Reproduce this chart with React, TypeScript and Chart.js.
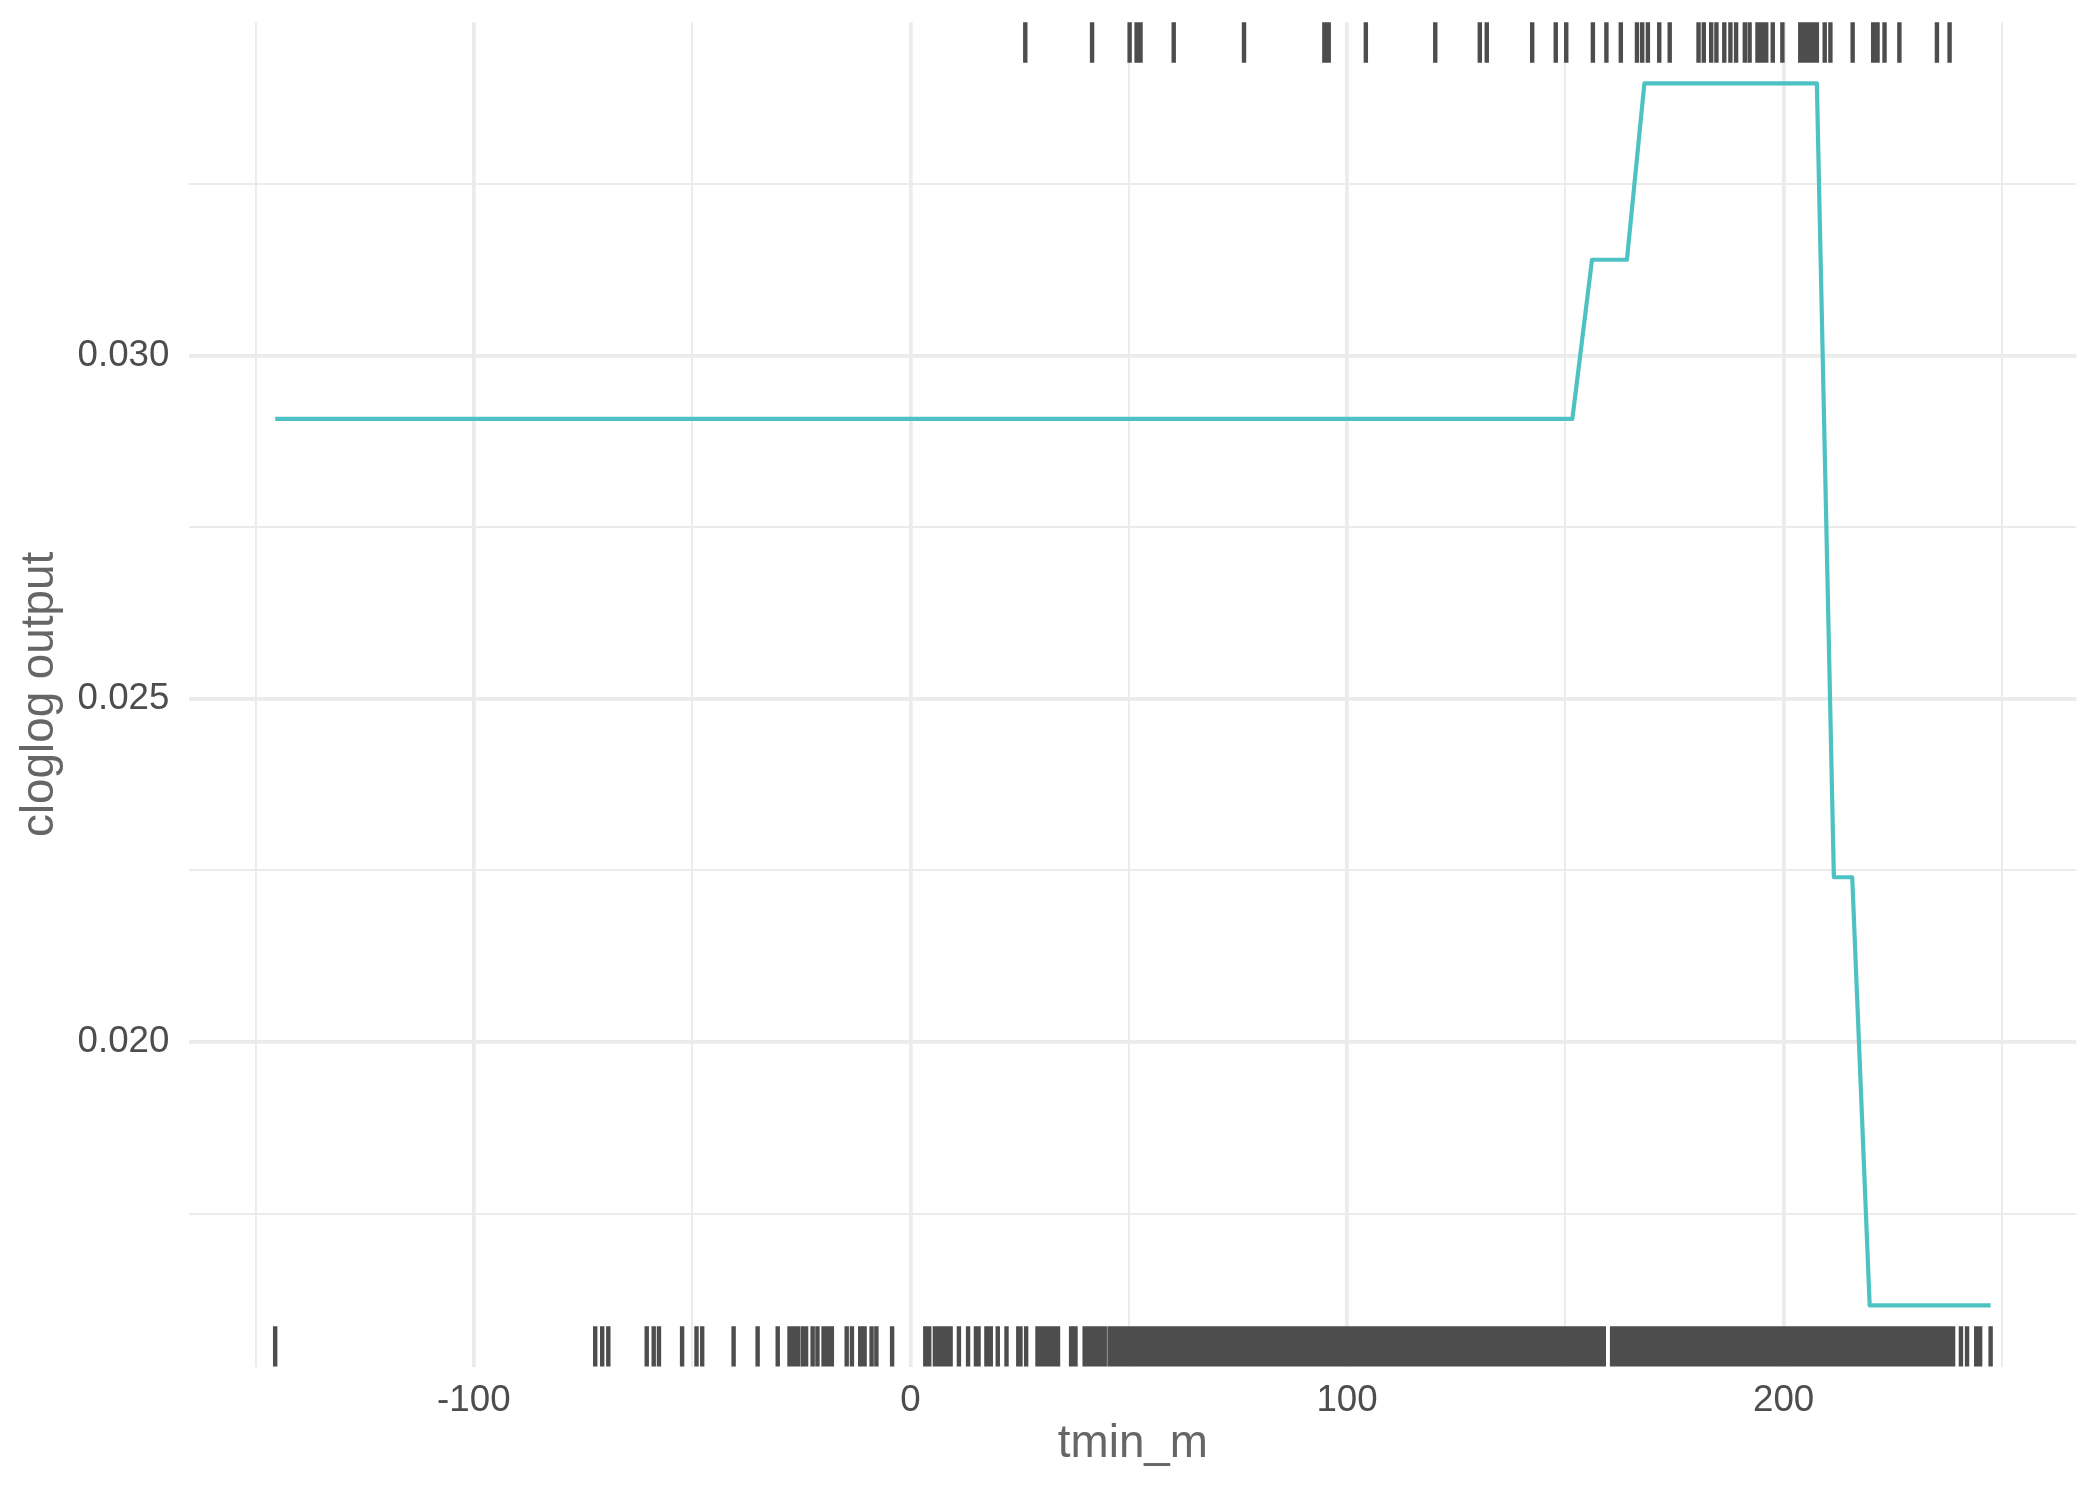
import React, { useEffect, useRef } from 'react';
import { Chart, registerables } from 'chart.js';

Chart.register(...registerables);

// Response curve (tmin_m vs cloglog output)
const curveX = [-145.5, 151.6, 156.1, 164.1, 168.1, 207.6, 211.5, 215.7, 219.7, 247.4];
const curveY = [0.02908, 0.02908, 0.0314, 0.0314, 0.03397, 0.03397, 0.0224, 0.0224, 0.01616, 0.01616];

// Rug at top (presence records)
const presenceX = [
  26.3, 41.6, 50.2, 51.8, 52.7, 60.3, 76.4, 94.8, 95.8, 104.3, 120.2, 130.4, 132.0,
  142.4, 147.8, 150.2, 156.3, 159.4, 162.7, 166.4, 167.6, 168.9, 171.5, 173.9,
  180.5, 181.7, 183.4, 184.6, 186.4, 187.8, 189.1, 191.1, 192.2, 194.0, 195.0,
  196.0, 197.5, 199.7, 203.8, 204.7, 205.7, 206.6, 207.6, 209.4, 210.7, 215.8,
  220.5, 221.5, 223.1, 226.5, 235.1, 238.0,
];

// Rug at bottom (background records)
const backgroundX = [
  -145.5, -72.2, -70.6, -69.2, -60.4, -58.8, -57.6, -52.3, -49.0, -47.7, -40.5, -35.0,
  -30.4, -27.7, -26.7, -25.7, -24.6, -23.9, -22.4, -21.3, -19.9, -19.0, -18.0, -14.6,
  -13.4, -11.5, -10.5, -8.9, -7.8, -4.2, 3.4, 4.3, 5.6, 6.6, 7.6, 8.6, 9.2, 11.1, 13.2,
  15.0, 15.6, 17.4, 18.4, 20.0, 22.0, 24.7, 25.2, 26.5, 29.1, 30.1, 31.1, 32.1, 33.1,
  33.8, 36.8, 37.8, 39.9, 40.9, 41.9, 42.9, 43.9, 44.5,
  45.6, 46.4, 47.3, 48.1, 49.0, 49.9, 50.7, 51.6, 52.4, 53.3, 54.2, 55.0, 55.9, 56.7,
  57.6, 58.5, 59.3, 60.2, 61.0, 61.9, 62.8, 63.6, 64.5, 65.3, 66.2, 67.1, 67.9, 68.8,
  69.6, 70.5, 71.4, 72.2, 73.1, 73.9, 74.8, 75.7, 76.5, 77.4, 78.2, 79.1, 80.0, 80.8,
  81.7, 82.5, 83.4, 84.3, 85.1, 86.0, 86.8, 87.7, 88.6, 89.4, 90.3, 91.1, 92.0, 92.9,
  93.7, 94.6, 95.4, 96.3, 97.2, 98.0, 98.9, 99.7, 100.6, 101.5, 102.3, 103.2, 104.0,
  104.9, 105.8, 106.6, 107.5, 108.3, 109.2, 110.1, 110.9, 111.8, 112.6, 113.5, 114.4,
  115.2, 116.1, 116.9, 117.8, 118.7, 119.5, 120.4, 121.2, 122.1, 123.0, 123.8, 124.7,
  125.5, 126.4, 127.3, 128.1, 129.0, 129.8, 130.7, 131.6, 132.4, 133.3, 134.1, 135.0,
  135.9, 136.7, 137.6, 138.4, 139.3, 140.2, 141.0, 141.9, 142.7, 143.6, 144.5, 145.3,
  146.2, 147.0, 147.9, 148.8, 149.6, 150.5, 151.3, 152.2, 153.1, 153.9, 154.8, 155.6,
  156.5, 157.4, 158.2, 158.8,
  160.7, 161.5, 162.4, 163.2, 164.1, 165.0, 165.8, 166.7, 167.5, 168.4, 169.3, 170.1,
  171.0, 171.8, 172.7, 173.6, 174.4, 175.3, 176.1, 177.0, 177.9, 178.7, 179.6, 180.4,
  181.3, 182.2, 183.0, 183.9, 184.7, 185.6, 186.5, 187.3, 188.2, 189.0, 189.9, 190.8,
  191.6, 192.5, 193.3, 194.2, 195.1, 195.9, 196.8, 197.6, 198.5, 199.4, 200.2, 201.1,
  201.9, 202.8, 203.7, 204.5, 205.4, 206.2, 207.1, 208.0, 208.8, 209.7, 210.5, 211.4,
  212.3, 213.1, 214.0, 214.8, 215.7, 216.6, 217.4, 218.3, 219.1, 220.0, 220.9, 221.7,
  222.6, 223.4, 224.3, 225.2, 226.0, 226.9, 227.7, 228.6, 229.5, 230.3, 231.2, 232.0,
  232.9, 233.8, 234.6, 235.5, 236.3, 237.2, 238.1, 238.8,
  240.6, 242.0, 244.1, 245.0, 247.4,
];

const xTickValues = [-150, -100, -50, 0, 50, 100, 150, 200, 250];
const xMajorTicks = [-100, 0, 100, 200];
const xTickLabels = ['-100', '0', '100', '200'];
const yTickValues = [0.0175, 0.02, 0.0225, 0.025, 0.0275, 0.03, 0.0325];
const yMajorTicks = [0.02, 0.025, 0.03];
const yTickLabels = ['0.020', '0.025', '0.030'];

const FONT = "'Liberation Sans', Arial, Helvetica, sans-serif";

const rugPlugin = {
  id: 'rug',
  afterDatasetsDraw(chart: any) {
    const { ctx, chartArea, scales } = chart;
    const len = 0.03 * (chartArea.bottom - chartArea.top);
    ctx.save();
    ctx.strokeStyle = '#4D4D4D';
    ctx.lineWidth = 4.4;
    ctx.lineCap = 'butt';
    ctx.beginPath();
    for (const v of presenceX) {
      const px = scales.x.getPixelForValue(v);
      ctx.moveTo(px, chartArea.top);
      ctx.lineTo(px, chartArea.top + len);
    }
    for (const v of backgroundX) {
      const px = scales.x.getPixelForValue(v);
      ctx.moveTo(px, chartArea.bottom);
      ctx.lineTo(px, chartArea.bottom - len);
    }
    ctx.stroke();
    ctx.restore();
  },
};

export default function App() {
  const ref = useRef<HTMLCanvasElement | null>(null);

  useEffect(() => {
    if (!ref.current) return;
    const allX = [...curveX, ...presenceX, ...backgroundX];
    const xLo = Math.min(...allX);
    const xHi = Math.max(...allX);
    const xPad = 0.05 * (xHi - xLo);
    const yLo = Math.min(...curveY);
    const yHi = Math.max(...curveY);
    const yPad = 0.05 * (yHi - yLo);

    const chart = new Chart(ref.current, {
      type: 'line',
      data: {
        datasets: [
          {
            data: curveX.map((x, i) => ({ x, y: curveY[i] })),
            borderColor: '#4EC2C2',
            borderWidth: 4.2,
            pointRadius: 0,
            tension: 0,
            fill: false,
            borderJoinStyle: 'round',
            borderCapStyle: 'butt',
          },
        ],
      },
      plugins: [rugPlugin],
      options: {
        animation: false,
        responsive: false,
        maintainAspectRatio: false,
        devicePixelRatio: 1,
        layout: { padding: { left: 0, right: 22.6, top: 22.3, bottom: 0 } },
        plugins: { legend: { display: false }, tooltip: { enabled: false } },
        scales: {
          x: {
            type: 'linear',
            min: xLo - xPad,
            max: xHi + xPad,
            afterFit: (s: any) => {
              s.height = 132.5;
              s.paddingLeft = 0;
              s.paddingRight = 0;
            },
            afterBuildTicks: (s: any) => {
              s.ticks = xTickValues.map((value) => ({ value }));
            },
            ticks: {
              autoSkip: false,
              maxRotation: 0,
              padding: 12,
              color: '#4D4D4D',
              font: { family: FONT, size: 36.7 },
              callback: (v: any) => {
                const i = xMajorTicks.indexOf(Number(v));
                return i >= 0 ? xTickLabels[i] : '';
              },
            },
            grid: {
              color: '#EBEBEB',
              lineWidth: (c: any) => (c.tick && xMajorTicks.includes(c.tick.value) ? 3.7 : 1.9),
              drawTicks: false,
            },
            border: { display: false },
            title: {
              display: true,
              text: 'tmin_m',
              color: '#666666',
              font: { family: FONT, size: 45.8 },
              padding: { top: 0, bottom: 26.7 },
            },
          },
          y: {
            type: 'linear',
            min: yLo - yPad,
            max: yHi + yPad,
            afterFit: (s: any) => {
              s.width = 189.4;
              s.paddingTop = 0;
              s.paddingBottom = 0;
            },
            afterBuildTicks: (s: any) => {
              s.ticks = yTickValues.map((value) => ({ value }));
            },
            ticks: {
              autoSkip: false,
              padding: 20,
              color: '#4D4D4D',
              font: { family: FONT, size: 36.7 },
              callback: (v: any) => {
                const i = yMajorTicks.indexOf(Number(v));
                return i >= 0 ? yTickLabels[i] : '';
              },
            },
            grid: {
              color: '#EBEBEB',
              lineWidth: (c: any) => (c.tick && yMajorTicks.includes(c.tick.value) ? 3.7 : 1.9),
              drawTicks: false,
            },
            border: { display: false },
            title: {
              display: true,
              text: 'cloglog output',
              color: '#666666',
              font: { family: FONT, size: 45.8 },
              padding: { top: 13, bottom: 0 },
            },
          },
        },
      },
    } as any);
    return () => chart.destroy();
  }, []);

  return (
    <div
      style={{
        position: 'fixed',
        left: 0,
        top: 0,
        width: 2099,
        height: 1499,
        overflow: 'hidden',
        background: '#ffffff',
      }}
    >
      <canvas ref={ref} width={2099} height={1499} style={{ display: 'block', width: 2099, height: 1499 }} />
    </div>
  );
}
